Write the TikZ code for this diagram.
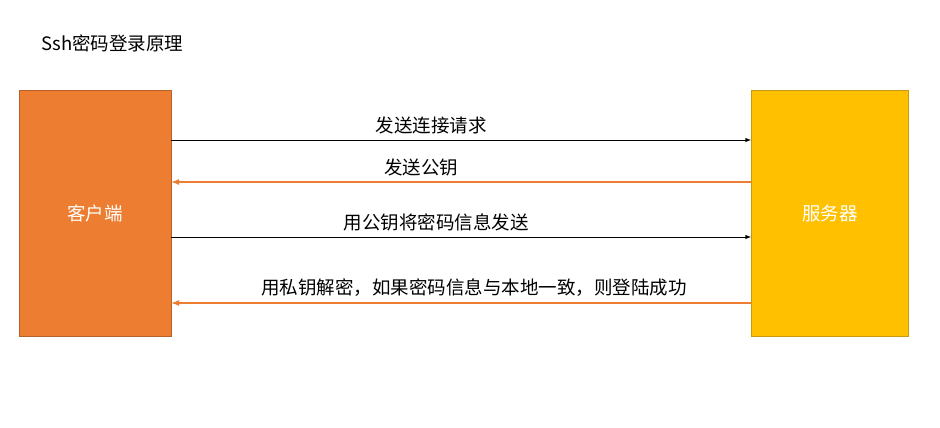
\documentclass[tikz,border=0pt]{standalone}
\usepackage{fontspec}
\setmainfont{Noto Sans CJK SC}
\usepackage{xcolor}
\usetikzlibrary{shapes,arrows,positioning}
\definecolor{clientorange}{HTML}{ED7D31}
\definecolor{clientedge}{HTML}{B4612A}
\definecolor{servergold}{HTML}{FFC000}
\definecolor{serveredge}{HTML}{C49A10}
\tikzstyle{hostbox} = [rectangle, minimum height=246pt, text=white, font=\fontsize{18.5pt}{22pt}\selectfont, line width=0.8pt]
\tikzstyle{arrow} = [line width=1pt,->,>=latex]
\tikzstyle{replyarrow} = [line width=1.6pt,->,>=latex,draw=clientorange]
\tikzstyle{msg} = [font=\fontsize{18.5pt}{22pt}\selectfont, above=2pt]

\begin{document}
\begin{tikzpicture}[x=1pt,y=-1pt]
  \useasboundingbox (0,0) rectangle (940,428);
  \node[anchor=west, font=\fontsize{18.5pt}{22pt}\selectfont] (title) at (38,43) {Ssh密码登录原理};
  \node[hostbox, fill=clientorange, draw=clientedge, minimum width=152pt] (client) at (95,213) {客户端};
  \node[hostbox, fill=servergold, draw=serveredge, minimum width=157pt] (server) at (830,213) {服务器};
  % requests and replies
  \draw[arrow] ([yshift=73pt]client.east) -- node[msg, pos=0.448] (req) {发送连接请求} ([yshift=73pt]server.west);
  \draw[replyarrow] ([yshift=31pt]server.west) -- node[msg, pos=0.569] (pubkey) {发送公钥} ([yshift=31pt]client.east);
  \draw[arrow] ([yshift=-24pt]client.east) -- node[msg, pos=0.457] (send) {用公钥将密码信息发送} ([yshift=-24pt]server.west);
  \draw[replyarrow] ([yshift=-90pt]server.west) -- node[msg, pos=0.478] (login) {用私钥解密，如果密码信息与本地一致，则登陆成功} ([yshift=-90pt]client.east);
\end{tikzpicture}
\end{document}
